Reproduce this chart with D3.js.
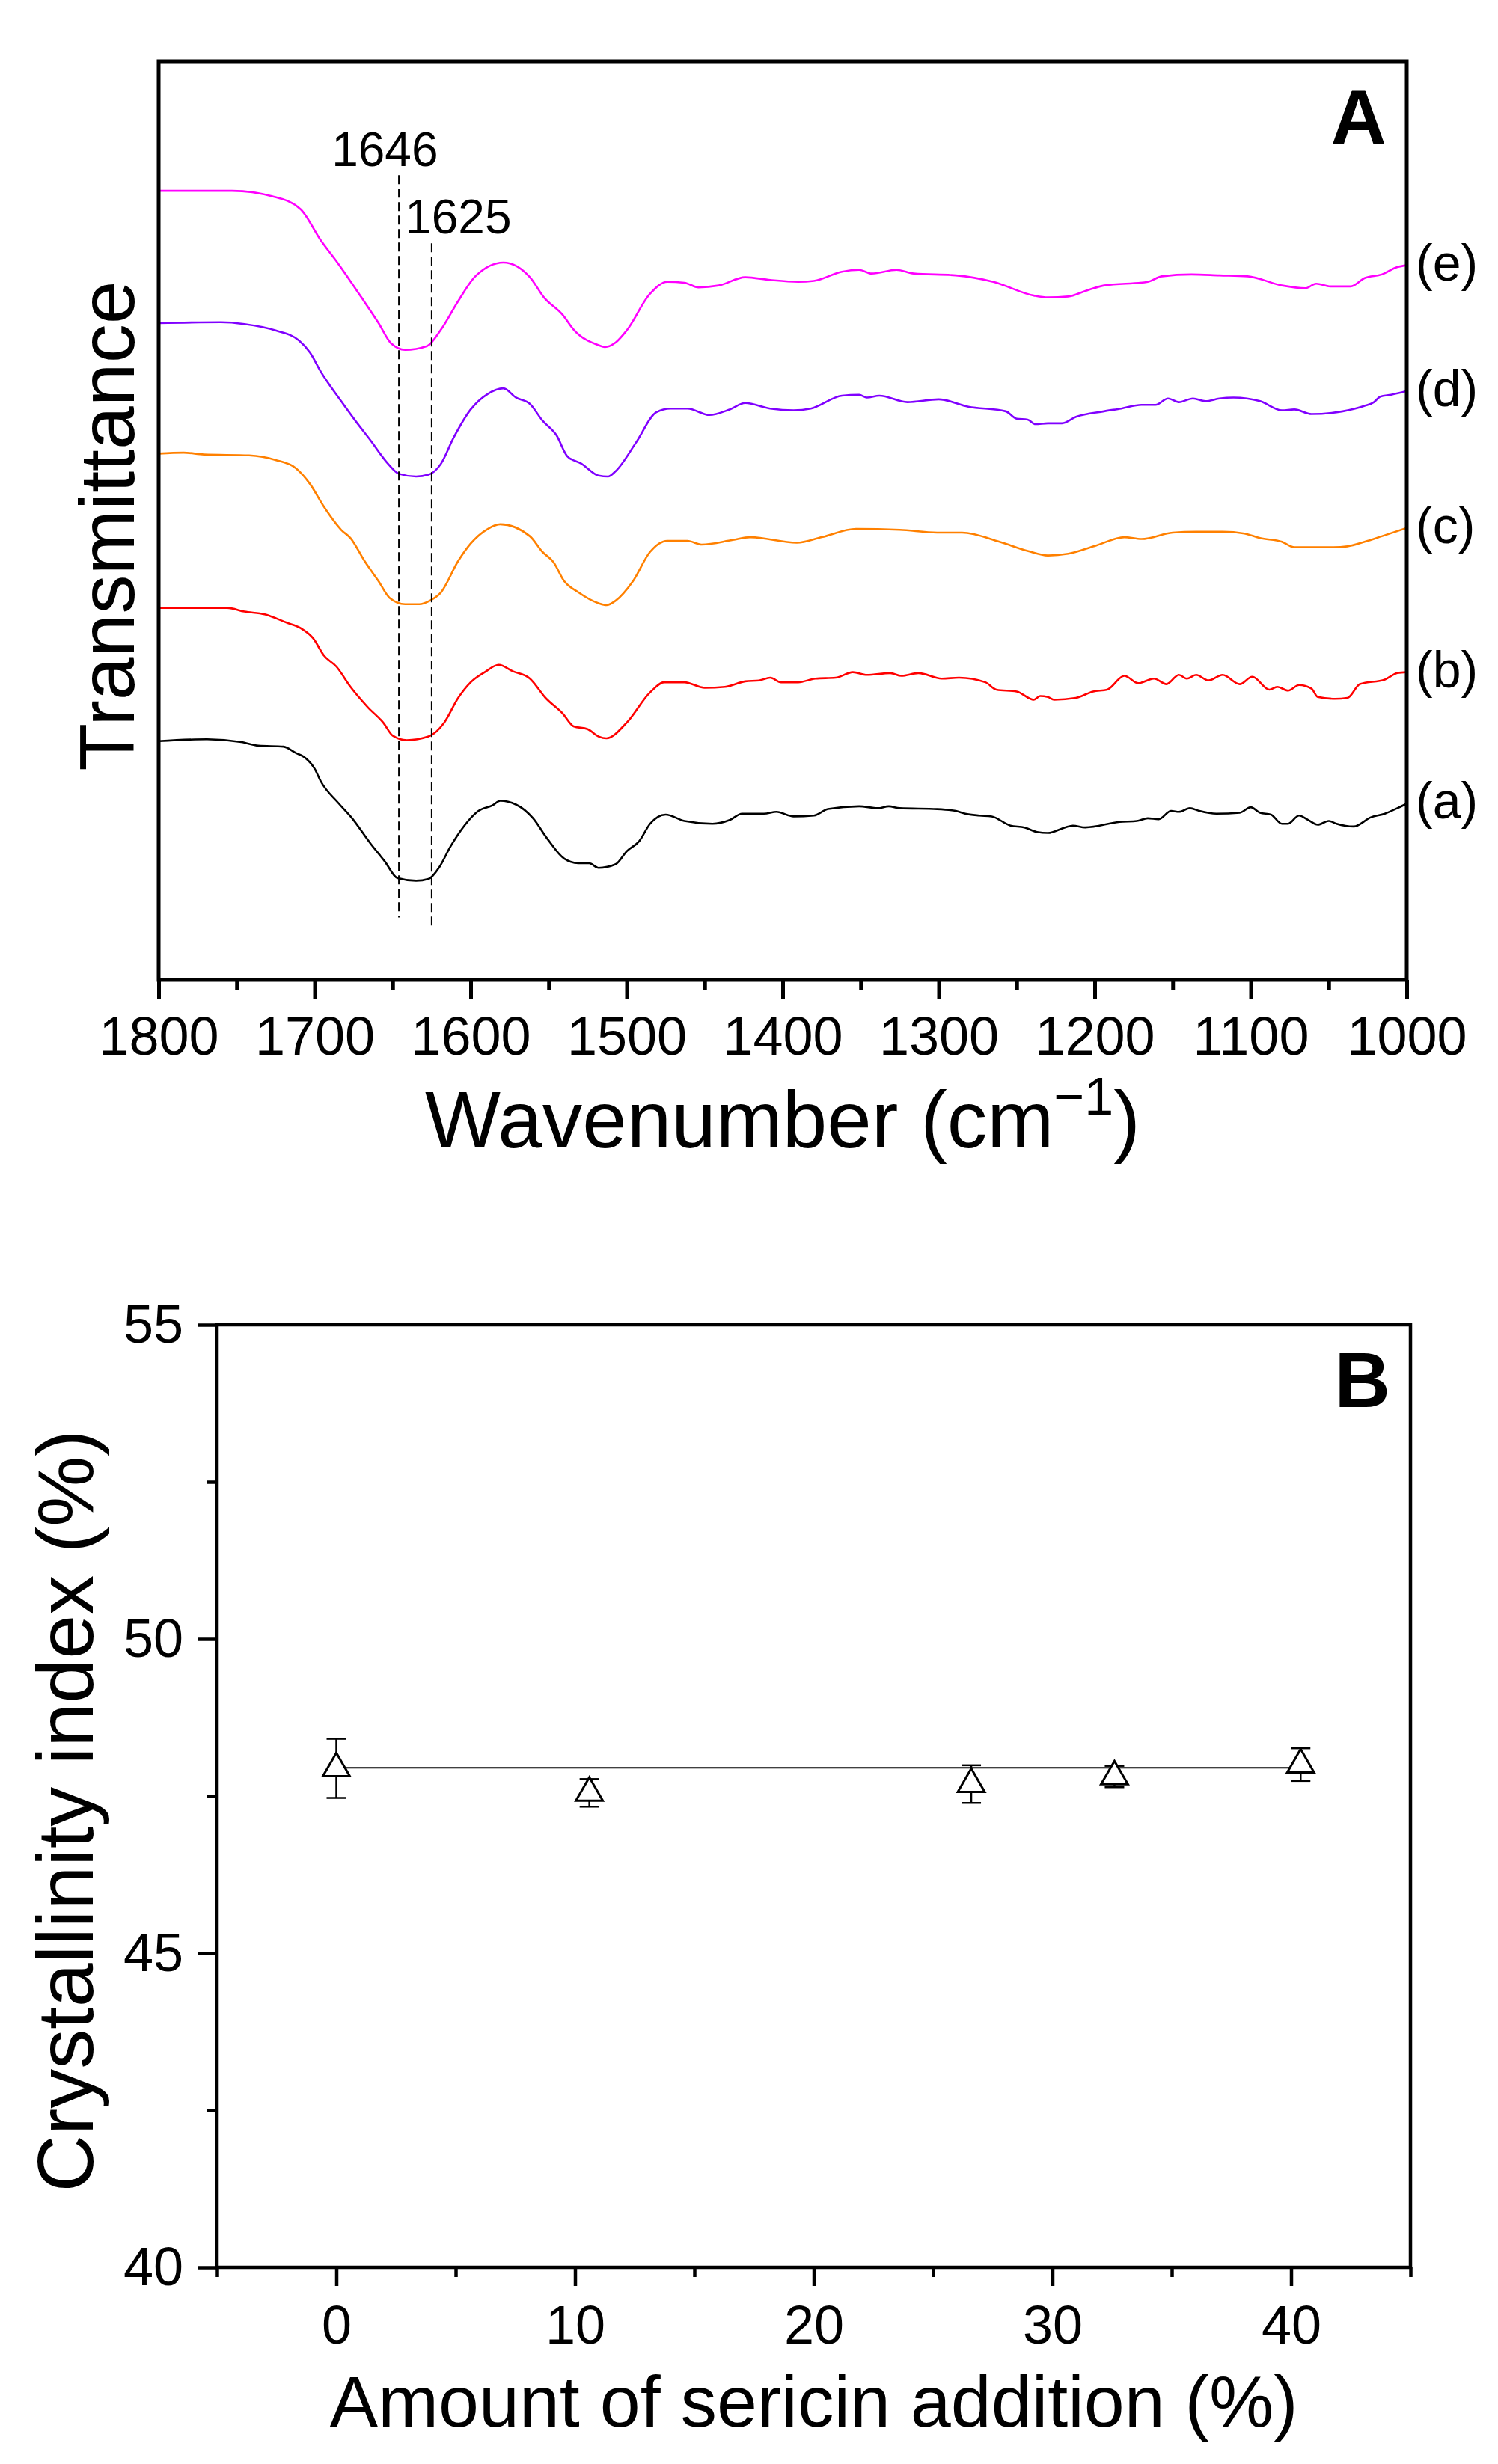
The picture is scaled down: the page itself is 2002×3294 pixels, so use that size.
<!DOCTYPE html>
<html>
<head>
<meta charset="utf-8">
<script src="https://cdn.jsdelivr.net/npm/d3@7"></script>
<style>
  body { margin: 0; background: #fff; }
  text { font-family: "Liberation Sans", Arial, sans-serif; fill: #000; }
</style>
</head>
<body>
<script>

// ---- panel A: FTIR spectra, [wavenumber, transmittance (a.u.)] ----

var specA = [[1800,26.0],[1769,26.2],[1747,25.9],[1736,25.5],[1720,25.4],[1712,24.7],[1707,24.3],[1700,23.0],[1696,21.6],[1685,19.3],[1676,17.6],[1664,14.8],[1655,12.9],[1647,11.1],[1635,10.8],[1627,11.0],[1620,12.3],[1613,14.5],[1604,16.8],[1595,18.4],[1586,19.0],[1581,19.5],[1571,19.1],[1560,17.6],[1551,15.4],[1540,13.2],[1531,12.7],[1524,12.7],[1518,12.2],[1507,12.6],[1500,14.0],[1492,15.1],[1485,17.0],[1475,18.0],[1463,17.3],[1445,17.0],[1434,17.4],[1426,18.1],[1412,18.1],[1404,18.3],[1393,17.8],[1380,17.9],[1371,18.6],[1351,18.9],[1339,18.7],[1332,18.9],[1325,18.7],[1301,18.6],[1289,18.4],[1283,18.1],[1274,17.9],[1266,17.8],[1254,16.8],[1245,16.6],[1237,16.1],[1230,16.0],[1219,16.6],[1214,16.8],[1206,16.6],[1184,17.2],[1173,17.3],[1166,17.6],[1159,17.5],[1151,18.4],[1146,18.3],[1139,18.7],[1133,18.4],[1122,18.1],[1107,18.2],[1100,18.8],[1094,18.2],[1087,18.0],[1080,17.0],[1076,17.0],[1069,17.9],[1063,17.4],[1057,16.9],[1050,17.3],[1045,17.0],[1034,16.7],[1023,17.7],[1014,18.1],[1006,18.7],[1000,19.2]];

var specB = [[1800,40.5],[1756,40.5],[1745,40.1],[1732,39.8],[1718,38.9],[1709,38.3],[1701,37.2],[1694,35.3],[1686,34.1],[1677,31.9],[1666,29.7],[1656,28.0],[1650,26.6],[1641,26.1],[1627,26.5],[1617,28.0],[1608,30.7],[1600,32.4],[1591,33.5],[1582,34.3],[1573,33.6],[1562,32.8],[1552,30.7],[1541,29.0],[1534,27.6],[1525,27.3],[1518,26.5],[1513,26.3],[1500,28.0],[1485,31.3],[1476,32.4],[1463,32.4],[1450,31.8],[1437,31.9],[1424,32.5],[1415,32.6],[1408,32.9],[1401,32.4],[1390,32.4],[1379,32.8],[1366,32.9],[1355,33.5],[1346,33.2],[1331,33.4],[1324,33.1],[1313,33.4],[1298,32.8],[1287,32.9],[1270,32.4],[1263,31.6],[1250,31.4],[1239,30.5],[1235,30.9],[1230,30.8],[1226,30.5],[1212,30.7],[1201,31.4],[1192,31.6],[1181,33.1],[1172,32.3],[1162,32.8],[1154,32.2],[1146,33.2],[1141,32.8],[1135,33.2],[1127,32.6],[1118,33.2],[1107,32.2],[1099,33.0],[1088,31.6],[1083,31.9],[1076,31.5],[1069,32.1],[1061,31.7],[1057,30.8],[1046,30.6],[1038,30.7],[1030,32.2],[1014,32.7],[1006,33.4],[1000,33.5]];

var specC = [[1800,57.3],[1784,57.4],[1771,57.2],[1742,57.1],[1725,56.6],[1712,55.7],[1703,54.0],[1694,51.5],[1683,49.0],[1677,48.1],[1668,45.6],[1659,43.4],[1652,41.6],[1642,40.9],[1633,40.9],[1626,41.3],[1619,42.2],[1608,45.6],[1600,47.5],[1589,49.1],[1581,49.6],[1562,48.3],[1554,46.6],[1547,45.5],[1540,43.4],[1531,42.2],[1518,41.0],[1513,40.8],[1507,41.3],[1496,43.4],[1485,46.6],[1474,47.8],[1461,47.8],[1452,47.4],[1432,47.9],[1421,48.2],[1391,47.6],[1375,48.2],[1353,49.1],[1325,49.0],[1301,48.7],[1285,48.7],[1261,47.7],[1243,46.7],[1230,46.2],[1217,46.4],[1199,47.3],[1181,48.2],[1170,48.0],[1150,48.7],[1135,48.8],[1118,48.8],[1104,48.6],[1094,48.1],[1080,47.7],[1072,47.1],[1047,47.1],[1038,47.2],[1027,47.7],[1016,48.3],[1000,49.2]];

var specD = [[1800,71.5],[1760,71.6],[1745,71.4],[1725,70.7],[1710,69.6],[1703,68.3],[1696,66.2],[1683,63.0],[1674,60.9],[1664,58.7],[1653,56.2],[1646,55.1],[1635,54.8],[1627,55.0],[1619,56.2],[1611,59.0],[1600,62.1],[1589,63.8],[1579,64.4],[1571,63.4],[1562,62.7],[1554,60.9],[1545,59.3],[1538,57.0],[1529,56.2],[1518,54.9],[1512,54.8],[1507,55.4],[1494,58.5],[1481,61.8],[1472,62.2],[1461,62.2],[1447,61.5],[1434,62.1],[1424,62.8],[1408,62.2],[1393,62.0],[1382,62.2],[1362,63.6],[1351,63.7],[1346,63.4],[1338,63.6],[1320,62.9],[1300,63.2],[1281,62.4],[1257,61.9],[1250,61.1],[1243,61.0],[1238,60.5],[1230,60.6],[1221,60.6],[1212,61.3],[1194,61.9],[1183,62.2],[1170,62.6],[1161,62.6],[1153,63.3],[1146,62.9],[1137,63.3],[1129,63.0],[1120,63.3],[1111,63.4],[1094,63.0],[1080,62.0],[1072,62.1],[1061,61.6],[1041,61.9],[1027,62.5],[1021,62.9],[1017,63.5],[1010,63.7],[1000,64.1]];

var specE = [[1800,85.9],[1753,85.9],[1727,85.3],[1709,83.9],[1696,80.5],[1685,78.0],[1670,74.3],[1659,71.5],[1651,69.3],[1642,68.6],[1628,69.0],[1619,70.8],[1608,73.9],[1597,76.6],[1579,78.1],[1562,76.5],[1553,74.3],[1541,72.4],[1534,70.8],[1518,69.1],[1514,68.9],[1507,69.4],[1500,70.7],[1485,74.7],[1474,76.0],[1463,75.9],[1454,75.4],[1441,75.6],[1424,76.5],[1408,76.2],[1390,76.0],[1380,76.1],[1362,77.1],[1351,77.3],[1343,76.9],[1327,77.3],[1316,76.9],[1289,76.7],[1265,76.0],[1239,74.5],[1230,74.3],[1217,74.4],[1206,75.0],[1194,75.6],[1166,76.0],[1157,76.6],[1138,76.8],[1120,76.7],[1102,76.6],[1080,75.6],[1065,75.3],[1058,75.8],[1049,75.5],[1036,75.5],[1027,76.4],[1016,76.8],[1006,77.6],[1000,77.8]];

var spectra = [specA, specB, specC, specD, specE];
var spectraLabels = ["(a)", "(b)", "(c)", "(d)", "(e)"];
var spectraColors = ["#000000", "#ff0000", "#ff8000", "#8000ff", "#ff00ff"];

// marked bands: wavenumber, dashed line from / to (a.u.), label height
var bandWn = [1646, 1625];
var bandTop = [87.6, 80.2];
var bandBottom = [6.8, 5.6];
var bandLabelWn = [1655, 1608];
var bandLabelY = [88.6, 81.3];

var xTicksA = [1800, 1700, 1600, 1500, 1400, 1300, 1200, 1100, 1000];
var xMinorA = [1750, 1650, 1550, 1450, 1350, 1250, 1150, 1050];

// ---- panel B: crystallinity index ----

var sericin = [0, 10.6, 26.6, 32.6, 40.4];
var crystIndex = [47.94, 47.55, 47.69, 47.81, 48.0];
var crystErr = [0.47, 0.22, 0.30, 0.17, 0.26];
var crystFit = 47.95;

var xTicksB = [0, 10, 20, 30, 40];
var xMinorB = [-5, 5, 15, 25, 35, 45];
var yTicksB = [40, 45, 50, 55];
var yMinorB = [42.5, 47.5, 52.5];


var W = 2002, H = 3294;

svg = d3.select("body")
    .append("svg")
    .attr("width", W)
    .attr("height", H)
    .attr("id", "svgMain");

svg.append("rect").attr("width", W).attr("height", H).attr("fill", "#fff");

// ================= panel A =================

var xA = d3.scaleLinear().domain([1800, 1000]).range([212, 1880]);
var yA = d3.scaleLinear().domain([0, 100]).range([1310, 82]);

var gA = svg.append("g");

var line = d3.line()
    .x(function(d) { return xA(d[0]); })
    .y(function(d) { return yA(d[1]); })
    .curve(d3.curveMonotoneX);

for (i = 0; i < spectra.length; i++) {
    gA.append("path")
	.datum(spectra[i])
	.attr("d", line)
	.attr("fill", "none")
	.attr("stroke", spectraColors[i])
	.attr("stroke-width", 2.6)
	.attr("stroke-linejoin", "round");

    var last = spectra[i][spectra[i].length - 1];
    gA.append("text")
	.attr("x", xA(1000) + 12)
	.attr("y", yA(last[1]) + 20)
	.attr("font-size", 68)
	.text(spectraLabels[i]);
}

// dashed band markers
for (i = 0; i < bandWn.length; i++) {
    gA.append("line")
	.attr("x1", xA(bandWn[i])).attr("x2", xA(bandWn[i]))
	.attr("y1", yA(bandTop[i])).attr("y2", yA(bandBottom[i]))
	.attr("stroke", "#000")
	.attr("stroke-width", 2)
	.attr("stroke-dasharray", "12,6");
    gA.append("text")
	.attr("x", xA(bandLabelWn[i]))
	.attr("y", yA(bandLabelY[i]))
	.attr("text-anchor", "middle")
	.attr("font-size", 64)
	.text(bandWn[i]);
}

// frame
gA.append("rect")
    .attr("x", xA(1800)).attr("y", yA(100))
    .attr("width", xA(1000) - xA(1800))
    .attr("height", yA(0) - yA(100))
    .attr("fill", "none")
    .attr("stroke", "#000")
    .attr("stroke-width", 5);

var axA = gA.append("g")
    .attr("transform", "translate(0," + yA(0) + ")")
    .call(d3.axisBottom(xA).tickValues(xTicksA).tickSize(25).tickPadding(24)
	  .tickFormat(d3.format("d")));
var axAm = gA.append("g")
    .attr("transform", "translate(0," + yA(0) + ")")
    .call(d3.axisBottom(xA).tickValues(xMinorA).tickSize(13).tickFormat(""));

[axA, axAm].forEach(function(a) {
    a.select(".domain").remove();
    a.selectAll(".tick line").attr("stroke", "#000").attr("stroke-width", 5);
    a.selectAll(".tick text").attr("font-size", 72).attr("font-family", "Liberation Sans, Arial, sans-serif");
});

gA.append("text")
    .attr("x", (xA(1800) + xA(1000)) / 2)
    .attr("y", 1534)
    .attr("text-anchor", "middle")
    .attr("font-size", 107)
    .text("Wavenumber (cm")
    .append("tspan")
    .attr("font-size", 70)
    .attr("dy", -44)
    .text("\u22121")
    .select(function() { return this.parentNode; })
    .append("tspan")
    .attr("dy", 44)
    .text(")");

gA.append("text")
    .attr("transform", "translate(179,703) rotate(-90)")
    .attr("text-anchor", "middle")
    .attr("font-size", 104)
    .text("Transmittance");

gA.append("text")
    .attr("x", xA(1000) - 27)
    .attr("y", yA(100) + 110)
    .attr("text-anchor", "end")
    .attr("font-size", 103)
    .attr("font-weight", "bold")
    .text("A");

// ================= panel B =================

var xB = d3.scaleLinear().domain([-5, 45]).range([290, 1885]);
var yB = d3.scaleLinear().domain([40, 55]).range([3031, 1771]);

var gB = svg.append("g");

gB.append("rect")
    .attr("x", xB(-5)).attr("y", yB(55))
    .attr("width", xB(45) - xB(-5))
    .attr("height", yB(40) - yB(55))
    .attr("fill", "none")
    .attr("stroke", "#000")
    .attr("stroke-width", 4.5);

var axBx = gB.append("g")
    .attr("transform", "translate(0," + yB(40) + ")")
    .call(d3.axisBottom(xB).tickValues(xTicksB).tickSize(25).tickPadding(26)
	  .tickFormat(d3.format("d")));
var axBxm = gB.append("g")
    .attr("transform", "translate(0," + yB(40) + ")")
    .call(d3.axisBottom(xB).tickValues(xMinorB).tickSize(13).tickFormat(""));
var axBy = gB.append("g")
    .attr("transform", "translate(" + xB(-5) + ",0)")
    .call(d3.axisLeft(yB).tickValues(yTicksB).tickSize(25).tickPadding(20)
	  .tickFormat(d3.format("d")));
var axBym = gB.append("g")
    .attr("transform", "translate(" + xB(-5) + ",0)")
    .call(d3.axisLeft(yB).tickValues(yMinorB).tickSize(13).tickFormat(""));

[axBx, axBxm, axBy, axBym].forEach(function(a) {
    a.select(".domain").remove();
    a.selectAll(".tick line").attr("stroke", "#000").attr("stroke-width", 4.5);
    a.selectAll(".tick text").attr("font-size", 72).attr("font-family", "Liberation Sans, Arial, sans-serif");
});

// fitted line
gB.append("line")
    .attr("x1", xB(sericin[0])).attr("x2", xB(sericin[sericin.length - 1]))
    .attr("y1", yB(crystFit)).attr("y2", yB(crystFit))
    .attr("stroke", "#000")
    .attr("stroke-width", 2);

var pts = sericin.map(function(s, k) { return [s, crystIndex[k], crystErr[k]]; });

var eb = gB.selectAll(".err").data(pts).enter().append("g").attr("class", "err");
eb.append("line")
    .attr("x1", function(d) { return xB(d[0]); })
    .attr("x2", function(d) { return xB(d[0]); })
    .attr("y1", function(d) { return yB(d[1] - d[2]); })
    .attr("y2", function(d) { return yB(d[1] + d[2]); });
eb.append("line")
    .attr("x1", function(d) { return xB(d[0]) - 13; })
    .attr("x2", function(d) { return xB(d[0]) + 13; })
    .attr("y1", function(d) { return yB(d[1] + d[2]); })
    .attr("y2", function(d) { return yB(d[1] + d[2]); });
eb.append("line")
    .attr("x1", function(d) { return xB(d[0]) - 13; })
    .attr("x2", function(d) { return xB(d[0]) + 13; })
    .attr("y1", function(d) { return yB(d[1] - d[2]); })
    .attr("y2", function(d) { return yB(d[1] - d[2]); });
eb.selectAll("line").attr("stroke", "#000").attr("stroke-width", 2.5);

gB.selectAll(".tri").data(pts).enter().append("path")
    .attr("class", "tri")
    .attr("d", d3.symbol().type(d3.symbolTriangle).size(560))
    .attr("transform", function(d) { return "translate(" + xB(d[0]) + "," + yB(d[1]) + ")"; })
    .attr("fill", "#fff")
    .attr("stroke", "#000")
    .attr("stroke-width", 3);

gB.append("text")
    .attr("x", (xB(-5) + xB(45)) / 2)
    .attr("y", 3244)
    .attr("text-anchor", "middle")
    .attr("font-size", 97)
    .text("Amount of sericin addition (%)");

gB.append("text")
    .attr("transform", "translate(124,2421) rotate(-90)")
    .attr("text-anchor", "middle")
    .attr("font-size", 106)
    .text("Crystallinity index (%)");

gB.append("text")
    .attr("x", xB(45) - 27)
    .attr("y", yB(55) + 110)
    .attr("text-anchor", "end")
    .attr("font-size", 103)
    .attr("font-weight", "bold")
    .text("B");

</script>
</body>
</html>
